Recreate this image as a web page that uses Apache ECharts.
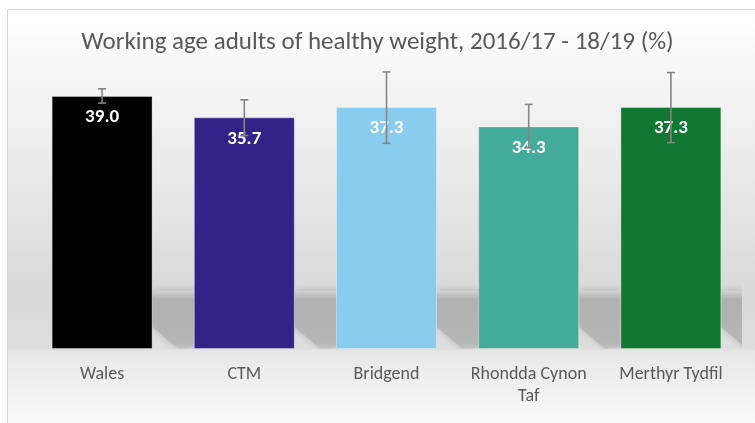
<!DOCTYPE html>
<html>
<head>
<meta charset="utf-8">
<script src="https://cdn.jsdelivr.net/npm/echarts@6/dist/echarts.min.js"></script>
<style>
  html, body { margin: 0; padding: 0; background: #fff; }
  #chart { width: 755px; height: 423px; }
</style>
</head>
<body>
<div id="chart"></div>
<script>
const categories = ['Wales', 'CTM', 'Bridgend', 'Rhondda Cynon\nTaf', 'Merthyr Tydfil']
const values = [39.0, 35.7, 37.3, 34.3, 37.3]
const lowerCI = [37.9, 32.9, 31.7, 31.0, 31.8]
const upperCI = [40.1, 38.4, 42.7, 37.7, 42.6]
const barColors = ['#000000', '#332288', '#88CCEE', '#44AA99', '#117733']

const FONT = 'Carlito, "Open Sans", sans-serif'
const SHADOW_TOP = 9 // where the floor shadow starts, in axis units

const chart = echarts.init(document.getElementById('chart'))

// soft floor shadow to the right of each bar
const renderShadow = (params, api) => {
  const i = api.value(0)
  const base = api.coord([i, 0])
  const band = api.size([1, 0])[0]
  const xr = base[0] + band * 0.355
  const top = api.coord([i, SHADOW_TOP])[1]
  const bottom = base[1]
  return {
    type: 'polygon',
    shape: {
      points: [[xr, top], [xr + 52, top], [xr + 52, bottom - 3], [xr + 26, bottom], [xr, bottom - 22]]
    },
    style: {
      fill: new echarts.graphic.LinearGradient(0, 0, 0, 1, [
        { offset: 0, color: '#d2d2d2' },
        { offset: 0.15, color: '#b1b1b1' },
        { offset: 0.9, color: '#b6b6b6' },
        { offset: 1, color: '#c6c6c6' }
      ]),
      shadowBlur: 6,
      shadowColor: 'rgba(170,170,170,0.8)'
    }
  }
}

const renderErrorBar = (params, api) => {
  const i = api.value(0)
  const lo = api.coord([i, api.value(1)])
  const hi = api.coord([i, api.value(2)])
  const cap = 4
  const style = { stroke: '#858585', lineWidth: 1.6 }
  return {
    type: 'group',
    children: [
      { type: 'line', shape: { x1: lo[0], y1: lo[1], x2: hi[0], y2: hi[1] }, style },
      { type: 'line', shape: { x1: hi[0] - cap, y1: hi[1], x2: hi[0] + cap, y2: hi[1] }, style },
      { type: 'line', shape: { x1: lo[0] - cap, y1: lo[1], x2: lo[0] + cap, y2: lo[1] }, style }
    ]
  }
}

const option = {
  backgroundColor: '#ffffff',
  animation: false,
  graphic: [
    {
      type: 'rect',
      z: -10,
      silent: true,
      shape: { x: 7.5, y: 9.5, width: 760, height: 420 },
      style: {
        fill: new echarts.graphic.LinearGradient(0, 0, 0, 1, [
          { offset: 0, color: '#ffffff' },
          { offset: 0.4, color: '#e9e9e9' },
          { offset: 0.67, color: '#d9d9d9' },
          { offset: 0.805, color: '#dedede' },
          { offset: 0.815, color: '#e7e7e7' },
          { offset: 1, color: '#fcfcfc' }
        ]),
        stroke: '#d4d4d4',
        lineWidth: 1
      }
    }
  ],
  title: {
    text: 'Working age adults of healthy weight, 2016/17 - 18/19 (%)',
    left: 'center',
    top: 25,
    textStyle: { fontFamily: FONT, fontSize: 25, fontWeight: 'normal', color: '#595959' }
  },
  grid: { left: 31, right: 13, top: 57, bottom: 74 },
  xAxis: {
    type: 'category',
    data: categories,
    axisLine: { show: false },
    axisTick: { show: false },
    axisLabel: { interval: 0, color: '#595959', fontFamily: FONT, fontSize: 18, lineHeight: 22, margin: 14 }
  },
  yAxis: {
    type: 'value',
    min: 0,
    max: 45,
    show: false
  },
  series: [
    {
      type: 'custom',
      z: 1,
      clip: true,
      silent: true,
      renderItem: renderShadow,
      data: categories.map((c, i) => [i])
    },
    {
      type: 'bar',
      z: 2,
      barCategoryGap: '29%',
      data: values.map((v, i) => ({ value: v, itemStyle: { color: barColors[i] } })),
      itemStyle: { borderColor: 'rgba(255,255,255,0.35)', borderWidth: 1 },
      label: {
        show: true,
        position: 'insideTop',
        distance: 12,
        color: '#ffffff',
        fontFamily: FONT,
        fontWeight: 'bold',
        fontSize: 19,
        formatter: p => p.value.toFixed(1)
      }
    },
    {
      type: 'custom',
      z: 3,
      renderItem: renderErrorBar,
      data: categories.map((c, i) => [i, lowerCI[i], upperCI[i]])
    }
  ]
}

chart.setOption(option)
</script>
</body>
</html>
